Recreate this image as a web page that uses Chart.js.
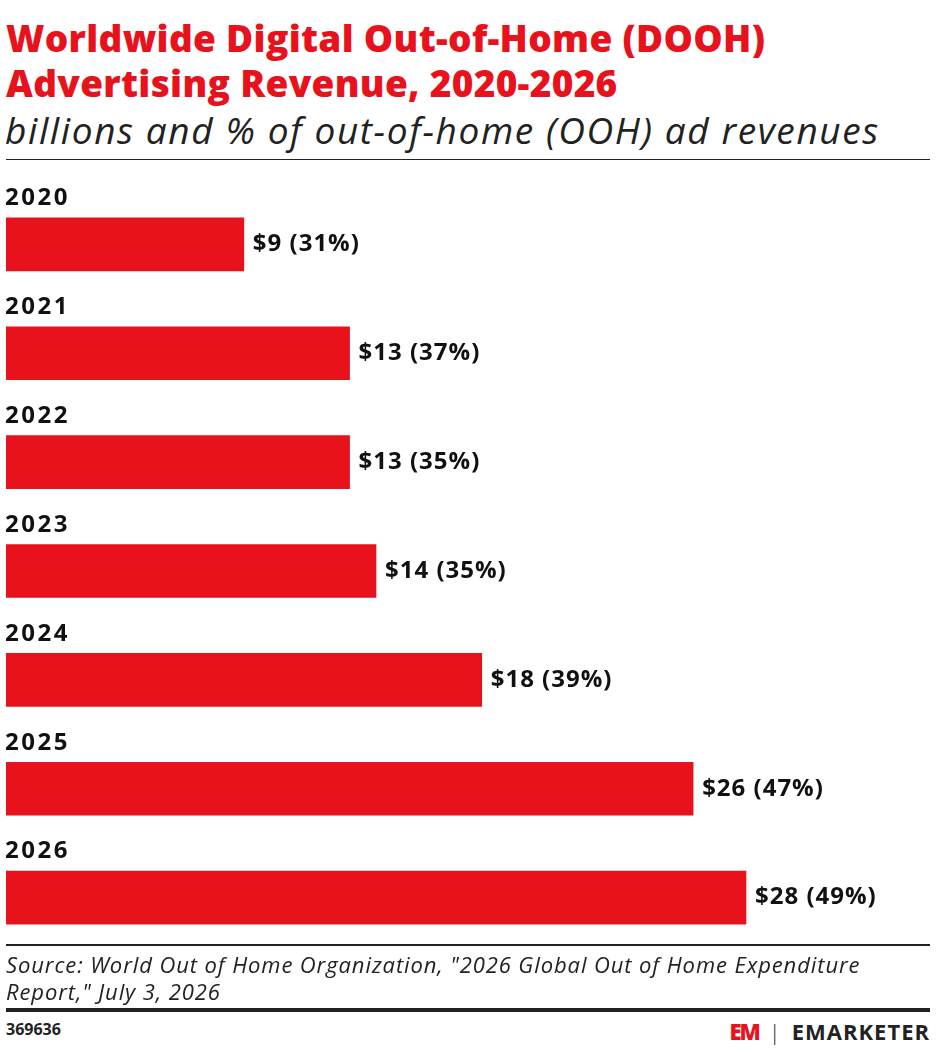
<!DOCTYPE html>
<html><head><meta charset="utf-8">
<script src="https://cdn.jsdelivr.net/npm/chart.js@4"></script>
<style>
body{margin:0;width:936px;height:1056px;position:relative;background:#fff;font-family:"Open Sans","Noto Sans",sans-serif;overflow:hidden}
.t{position:absolute;left:6px;top:15px;color:#e8121c;font-weight:800;font-size:37px;line-height:45px;letter-spacing:0.3px}
.s{position:absolute;left:5px;top:104px;font-style:italic;font-size:37px;color:#222;letter-spacing:1.6px}
.hr{position:absolute;left:6px;right:6px;background:#222}
.src{position:absolute;left:6px;top:951px;font-style:italic;font-size:22px;line-height:27px;color:#222;letter-spacing:0.9px}
.id{position:absolute;left:6px;top:1018px;font-weight:700;font-size:16px;color:#222}
.logo{position:absolute;right:6px;top:1016px;font-weight:700;font-size:22px;letter-spacing:1px;color:#222}
.logo b{color:#e8121c;font-weight:800;letter-spacing:-2px;margin-right:10px}
#wrap{position:absolute;left:0;top:160px;width:936px;height:792px}
</style></head><body>
<div class="t">Worldwide Digital Out-of-Home (DOOH)<br>Advertising Revenue, 2020-2026</div>
<div class="s">billions and % of out-of-home (OOH) ad revenues</div>
<div class="hr" style="top:159px;height:1px"></div>
<div id="wrap"><canvas id="c"></canvas></div>
<div class="hr" style="top:944px;height:2px"></div>
<div class="src">Source: World Out of Home Organization, "2026 Global Out of Home Expenditure<br>Report," July 3, 2026</div>
<div class="hr" style="top:1008px;height:4px"></div>
<div class="id">369636</div>
<div class="logo"><b>EM</b><span style="font-weight:300;margin-right:10px">|</span>EMARKETER</div>
<script>
var years = ['2020','2021','2022','2023','2024','2025','2026'];
var revenue = [9, 13, 13, 14, 18, 26, 28];
var shares = ['31%','37%','35%','35%','39%','47%','49%'];

var labelPlugin = {
    id: 'labels',
    afterDatasetsDraw: function (chart) {
        var ctx = chart.ctx;
        var meta = chart.getDatasetMeta(0);
        ctx.save();
        ctx.fillStyle = '#111';
        ctx.font = '700 24px "Open Sans", sans-serif';
        ctx.textBaseline = 'middle';
        meta.data.forEach(function (bar, i) {
            ctx.textAlign = 'left';
            ctx.letterSpacing = '2.5px';
            ctx.fillText(years[i], 5, bar.y - 46);
            ctx.letterSpacing = '1px';
            ctx.fillText('$' + revenue[i] + ' (' + shares[i] + ')', bar.x + 9, bar.y);
        });
        ctx.restore();
    }
};

new Chart(document.getElementById('c'), {
    type: 'bar',
    data: {
        labels: years,
        datasets: [{
            data: revenue,
            backgroundColor: '#e8121c',
            barThickness: 53
        }]
    },
    options: {
        indexAxis: 'y',
        maintainAspectRatio: false,
        animation: false,
        layout: { padding: { left: 6, right: 0, top: 30, bottom: 0 } },
        plugins: { legend: { display: false }, tooltip: { enabled: false } },
        scales: {
            x: { display: false, min: 0, max: 35.19 },
            y: { display: false }
        }
    },
    plugins: [labelPlugin]
});
</script>
</body></html>
